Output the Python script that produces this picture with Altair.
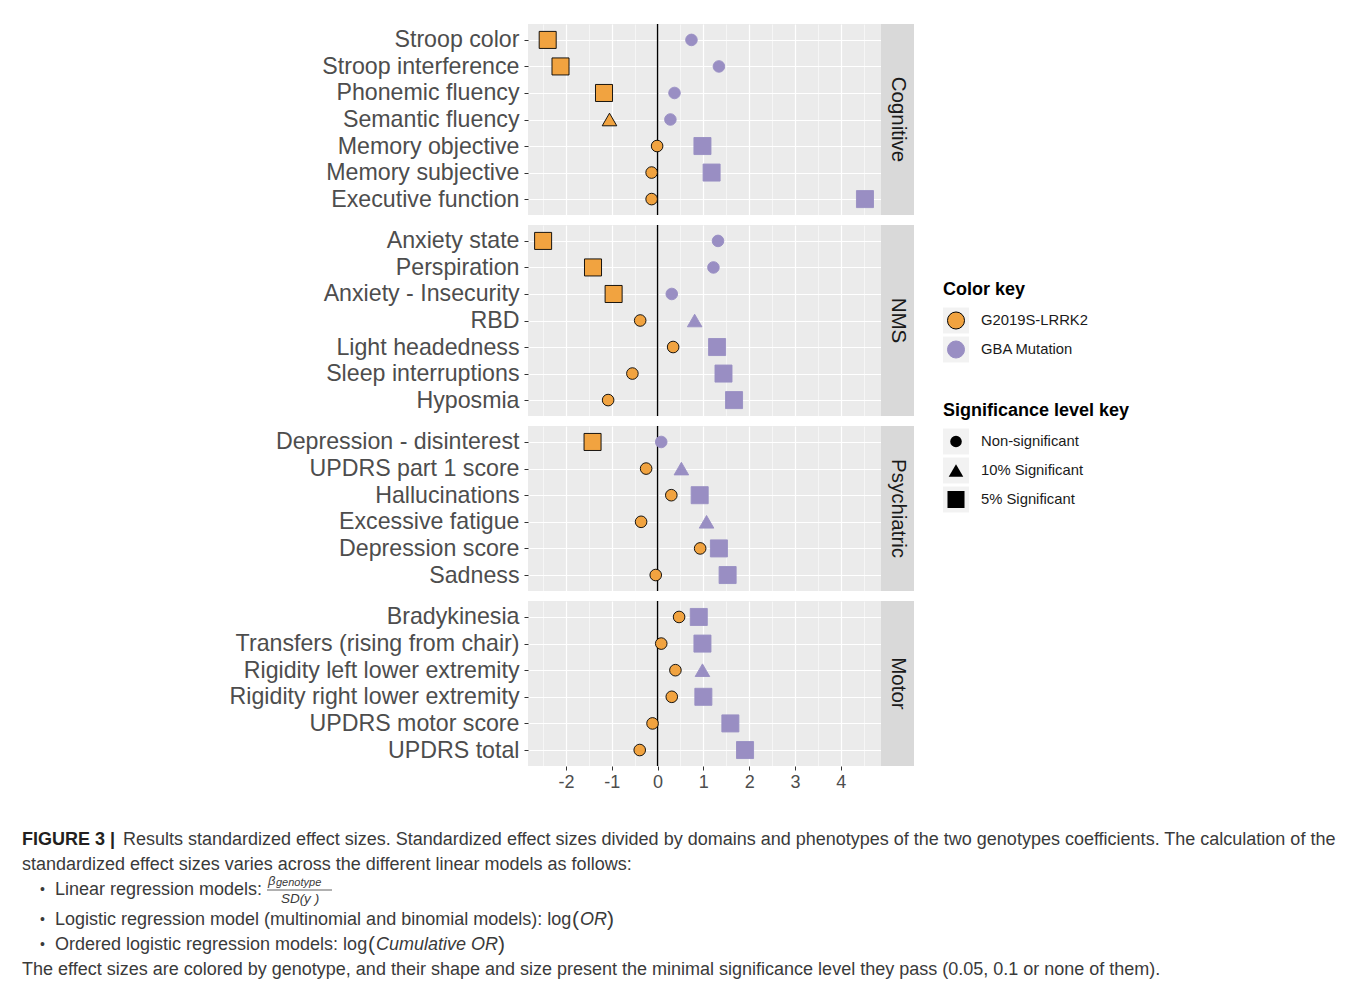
import altair as alt
import pandas as pd

FONT = "Liberation Sans, Arial, Helvetica, sans-serif"
ORANGE = "#f1a340"
PURPLE = "#998ec3"
CAP_COLOR = "#3a3a3a"

genotypes = ["G2019S-LRRK2", "GBA Mutation"]
sig_levels = ["Non-significant", "10% Significant", "5% Significant"]
domains = ["Cognitive", "NMS", "Psychiatric", "Motor"]

# ---- Cognitive ----
cognitive_items = ["Stroop color", "Stroop interference", "Phonemic fluency", "Semantic fluency",
                   "Memory objective", "Memory subjective", "Executive function"]
cognitive_lrrk2 = [-2.40, -2.12, -1.17, -1.05, -0.01, -0.13, -0.13]
cognitive_lrrk2_sig = [2, 2, 2, 1, 0, 0, 0]
cognitive_gba = [0.74, 1.34, 0.37, 0.28, 0.98, 1.18, 4.53]
cognitive_gba_sig = [0, 0, 0, 0, 2, 2, 2]

# ---- NMS ----
nms_items = ["Anxiety state", "Perspiration", "Anxiety - Insecurity", "RBD",
             "Light headedness", "Sleep interruptions", "Hyposmia"]
nms_lrrk2 = [-2.50, -1.41, -0.96, -0.38, 0.34, -0.55, -1.08]
nms_lrrk2_sig = [2, 2, 2, 0, 0, 0, 0]
nms_gba = [1.32, 1.22, 0.31, 0.81, 1.30, 1.44, 1.67]
nms_gba_sig = [0, 0, 0, 1, 2, 2, 2]

# ---- Psychiatric ----
psych_items = ["Depression - disinterest", "UPDRS part 1 score", "Hallucinations",
               "Excessive fatigue", "Depression score", "Sadness"]
psych_lrrk2 = [-1.42, -0.25, 0.30, -0.36, 0.93, -0.04]
psych_lrrk2_sig = [2, 0, 0, 0, 0, 0]
psych_gba = [0.08, 0.52, 0.92, 1.07, 1.34, 1.53]
psych_gba_sig = [0, 1, 2, 1, 2, 2]

# ---- Motor ----
motor_items = ["Bradykinesia", "Transfers (rising from chair)", "Rigidity left lower extremity",
               "Rigidity right lower extremity", "UPDRS motor score", "UPDRS total"]
motor_lrrk2 = [0.47, 0.08, 0.39, 0.31, -0.11, -0.39]
motor_lrrk2_sig = [0, 0, 0, 0, 0, 0]
motor_gba = [0.90, 0.98, 0.98, 1.00, 1.59, 1.91]
motor_gba_sig = [2, 2, 1, 2, 2, 2]

x_domain = [-2.83, 4.88]
x_tick_values = [-2.5, -2, -1.5, -1, -0.5, 0, 0.5, 1, 1.5, 2, 2.5, 3, 3.5, 4, 4.5]
reference_line = [0]

# caption text
cap_lead = "FIGURE 3 |"
cap_line1 = ("Results standardized effect sizes. Standardized effect sizes divided by domains and phenotypes "
             "of the two genotypes coefficients. The calculation of the")
cap_line2 = "standardized effect sizes varies across the different linear models as follows:"
cap_bullet1 = "Linear regression models:"
cap_frac_num = "β"
cap_frac_sub = "genotype"
cap_frac_den = "SD(y )"
cap_bullet2 = "Logistic regression model (multinomial and binomial models): log"
cap_bullet2_it = "OR"
cap_bullet3 = "Ordered logistic regression models: log"
cap_bullet3_it = "Cumulative OR"
cap_last = ("The effect sizes are colored by genotype, and their shape and size present the minimal "
            "significance level they pass (0.05, 0.1 or none of them).")


def domain_frame(domain, items, lrrk2, lrrk2_sig, gba, gba_sig):
    rows = []
    for i, it in enumerate(items):
        rows.append({"domain": domain, "item": it, "genotype": genotypes[0],
                     "value": lrrk2[i], "sig": sig_levels[lrrk2_sig[i]]})
        rows.append({"domain": domain, "item": it, "genotype": genotypes[1],
                     "value": gba[i], "sig": sig_levels[gba_sig[i]]})
    return pd.DataFrame(rows)


frames = [
    ("Cognitive", cognitive_items, domain_frame("Cognitive", cognitive_items, cognitive_lrrk2,
                                                cognitive_lrrk2_sig, cognitive_gba, cognitive_gba_sig)),
    ("NMS", nms_items, domain_frame("NMS", nms_items, nms_lrrk2, nms_lrrk2_sig, nms_gba, nms_gba_sig)),
    ("Psychiatric", psych_items, domain_frame("Psychiatric", psych_items, psych_lrrk2, psych_lrrk2_sig,
                                              psych_gba, psych_gba_sig)),
    ("Motor", motor_items, domain_frame("Motor", motor_items, motor_lrrk2, motor_lrrk2_sig,
                                        motor_gba, motor_gba_sig)),
]
panel_heights = [191, 191, 165, 165]
PLOT_W = 353
STRIP_W = 33
Y_EXTENT = 515
OX = 528  # absolute x of the plot area's left edge (used to place caption text)

is_major = "datum.value % 1 === 0"

fill_scale = alt.Scale(domain=genotypes, range=[ORANGE, PURPLE])
stroke_scale = alt.Scale(domain=genotypes, range=["#000000", PURPLE])
shape_scale = alt.Scale(domain=sig_levels, range=["circle", "triangle-up", "square"])
size_scale = alt.Scale(domain=sig_levels, range=[135, 290, 361])


def panel(name, items, df, h, bottom):
    xscale = alt.Scale(domain=x_domain, nice=False, zero=False)
    if bottom:
        xaxis = alt.Axis(values=x_tick_values, title=None, domain=False,
                         grid=True, gridColor="white",
                         gridWidth={"condition": {"test": is_major, "value": 1.2}, "value": 0.55},
                         ticks=True, tickSize=4, tickColor="#333333",
                         tickOpacity={"condition": {"test": is_major, "value": 1}, "value": 0},
                         labelExpr="datum.value % 1 === 0 ? '' + datum.value : ''",
                         labelFontSize=18, labelColor="#4d4d4d", labelFont=FONT,
                         labelPadding=3, labelFlush=False, labelOverlap=False)
    else:
        xaxis = alt.Axis(values=x_tick_values, title=None, domain=False, labels=False, ticks=False,
                         grid=True, gridColor="white",
                         gridWidth={"condition": {"test": is_major, "value": 1.2}, "value": 0.55},
                         minExtent=0, maxExtent=0)
    yaxis = alt.Axis(title=None, domain=False, grid=True, gridColor="white", gridWidth=1.2,
                     ticks=True, tickSize=4, tickColor="#333333",
                     labelFontSize=23.2, labelColor="#4d4d4d", labelFont=FONT, labelPadding=5,
                     labelLimit=510, minExtent=Y_EXTENT, maxExtent=Y_EXTENT)

    rule = alt.Chart(pd.DataFrame({"value": reference_line})).mark_rule(
        color="black", strokeWidth=1.4).encode(x=alt.X("value:Q", scale=xscale, axis=xaxis))

    pts = alt.Chart(df).mark_point(filled=True, opacity=1, strokeWidth=0.9).encode(
        x=alt.X("value:Q", scale=xscale, axis=xaxis),
        y=alt.Y("item:N", sort=items, scale=alt.Scale(type="point", padding=0.6), axis=yaxis),
        fill=alt.Fill("genotype:N", scale=fill_scale, legend=None),
        stroke=alt.Stroke("genotype:N", scale=stroke_scale, legend=None),
        shape=alt.Shape("sig:N", scale=shape_scale, legend=None),
        size=alt.Size("sig:O", scale=size_scale, legend=None),
    )
    plot = alt.layer(rule, pts).properties(
        width=PLOT_W, height=h, view=alt.ViewBackground(fill="#ebebeb", strokeWidth=0))

    strip = alt.Chart(pd.DataFrame({"domain": [name]})).mark_text(
        angle=90, fontSize=20.5, color="#1a1a1a", font=FONT, baseline="middle", align="center"
    ).encode(text="domain:N", x=alt.value(STRIP_W / 2), y=alt.value(h / 2)).properties(
        width=STRIP_W, height=h, view=alt.ViewBackground(fill="#d9d9d9", strokeWidth=0))
    return alt.hconcat(plot, strip, spacing=0)


rows = [panel(n, it, df, h, i == 3) for i, ((n, it, df), h) in enumerate(zip(frames, panel_heights))]
panels_col = alt.vconcat(*rows, spacing=8)


# ---- manual legends ----
def legend_block(title, labels, symbol_layer_fn, n_rows):
    ldf = pd.DataFrame({"label": labels})
    yenc = alt.Y("label:N", sort=labels, axis=None, scale=alt.Scale(type="point", padding=0.5))
    bg = alt.Chart(ldf).mark_square(size=676, color="#f2f2f2", opacity=1).encode(
        x=alt.value(13), y=yenc)
    sym = symbol_layer_fn(alt.Chart(ldf), yenc)
    lab = alt.Chart(ldf).mark_text(align="left", baseline="middle", fontSize=14.8, font=FONT,
                                   color="#1a1a1a").encode(x=alt.value(38), y=yenc, text="label:N")
    return alt.layer(bg, sym, lab).properties(
        width=200, height=29 * n_rows,
        title=alt.TitleParams(title, anchor="start", fontSize=18, fontWeight="bold", font=FONT,
                              color="#000000", offset=7))


def color_symbols(base, yenc):
    return base.mark_point(filled=True, opacity=1, size=290, shape="circle", strokeWidth=1).encode(
        x=alt.value(13), y=yenc,
        fill=alt.Fill("label:N", scale=fill_scale, legend=None),
        stroke=alt.Stroke("label:N", scale=stroke_scale, legend=None))


def shape_symbols(base, yenc):
    return base.mark_point(filled=True, opacity=1, color="black").encode(
        x=alt.value(13), y=yenc,
        shape=alt.Shape("label:N", scale=shape_scale, legend=None),
        size=alt.Size("label:O", scale=alt.Scale(domain=sig_levels, range=[80, 180, 140]), legend=None))


spacer = alt.Chart(pd.DataFrame({"v": [0]})).mark_point(opacity=0).encode(
    x=alt.value(0), y=alt.value(0)).properties(width=10, height=219)

legend_col = alt.vconcat(
    spacer,
    legend_block("Color key", genotypes, color_symbols, 2),
    legend_block("Significance level key", sig_levels, shape_symbols, 3),
    spacing=38,
)

top_row = alt.hconcat(panels_col, legend_col, spacing=26)


# ---- caption (x given in page pixels, shifted to the plot-area origin) ----
def txt(s, x, y, size=18, weight="normal", style="normal", color=CAP_COLOR, align="left"):
    return alt.Chart(pd.DataFrame({"t": [s]})).mark_text(
        align=align, baseline="middle", fontSize=size, fontWeight=weight, fontStyle=style,
        font=FONT, color=color).encode(x=alt.value(x - OX), y=alt.value(y), text="t:N")


Y1, Y2, Y3, Y4, Y5, Y6 = 41, 66, 91, 121, 146, 171

frac_rule = alt.Chart(pd.DataFrame({"v": [0]})).mark_rule(color=CAP_COLOR, strokeWidth=0.8).encode(
    x=alt.value(267 - OX), x2=alt.value(332 - OX), y=alt.value(Y3))

caption = alt.layer(
    txt(cap_lead, 22, Y1, weight="bold", color="#231f20"),
    txt(cap_line1, 123, Y1),
    txt(cap_line2, 22, Y2),
    txt("•", 40, Y3, size=14),
    txt(cap_bullet1, 55, Y3),
    txt(cap_frac_num, 268, Y3 - 9, size=13, style="italic"),
    txt(cap_frac_sub, 276, Y3 - 7, size=11, style="italic"),
    frac_rule,
    txt(cap_frac_den, 300, Y3 + 9, size=13.5, style="italic", align="center"),
    txt("•", 40, Y4, size=14),
    txt(cap_bullet2, 55, Y4),
    txt("(", 572, Y4, size=21),
    txt(cap_bullet2_it, 580, Y4, style="italic"),
    txt(")", 607, Y4, size=21),
    txt("•", 40, Y5, size=14),
    txt(cap_bullet3, 55, Y5),
    txt("(", 368, Y5, size=21),
    txt(cap_bullet3_it, 376, Y5, style="italic"),
    txt(")", 498, Y5, size=21),
    txt(cap_last, 22, Y6),
).properties(width=790, height=170)

chart = alt.vconcat(top_row, caption, spacing=8).properties(
    padding={"left": 5, "top": 13, "right": 0, "bottom": 0}
).configure_view(strokeWidth=0)

chart.save("out.html", embed_options={"renderer": "svg", "actions": False})
